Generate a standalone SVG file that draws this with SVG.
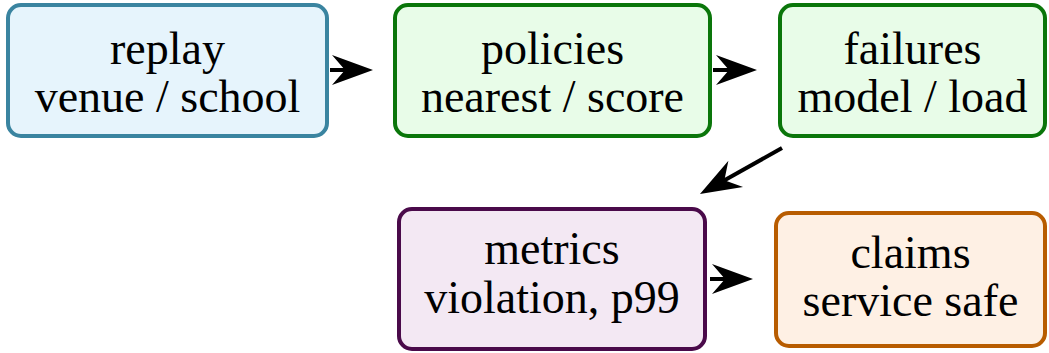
<svg xmlns="http://www.w3.org/2000/svg" width="1049" height="353" viewBox="0 0 1049 353">
<style>
.box{stroke-width:4}
.t{font-size:46px;fill:#000;text-anchor:middle}
.c{stroke:#000;stroke-width:4;fill:none;marker-end:url(#ah)}
</style>
<defs>
<marker id="ah" markerUnits="userSpaceOnUse" viewBox="-42 -16 44 32" markerWidth="44" markerHeight="32" refX="-20" refY="0" orient="auto">
<path d="M0,0 L-41,-15 L-28,0 L-41,15 Z" fill="#000"/>
</marker>
</defs>
<rect width="1049" height="353" fill="#fff"/>
<g id="connectors">
<line class="c" x1="330" y1="70" x2="353" y2="70"/>
<line class="c" x1="713" y1="70" x2="737" y2="70"/>
<line class="c" x1="782" y1="148" x2="717.4" y2="184.2"/>
<line class="c" x1="710" y1="279" x2="733" y2="279"/>
</g>
<g font-family="Liberation Serif, Times New Roman, serif">
<g id="replay">
<rect class="box" x="8" y="5" width="319" height="131" rx="13" fill="#e6f4fc" stroke="#3a84a0"/>
<text class="t" x="167.5" y="64">replay</text>
<text class="t" x="167.5" y="112">venue / school</text>
</g>
<g id="policies">
<rect class="box" x="395" y="5" width="315" height="131" rx="13" fill="#e8fce8" stroke="#0a760a"/>
<text class="t" x="552.5" y="64">policies</text>
<text class="t" x="552.5" y="112">nearest / score</text>
</g>
<g id="failures">
<rect class="box" x="780" y="5" width="265" height="131" rx="13" fill="#e8fce8" stroke="#0a760a"/>
<text class="t" x="912.5" y="64">failures</text>
<text class="t" x="912.5" y="112">model / load</text>
</g>
<g id="metrics">
<rect class="box" x="399" y="209" width="306" height="140" rx="13" fill="#f3e8f3" stroke="#4a0a4a"/>
<text class="t" x="552" y="264">metrics</text>
<text class="t" x="552" y="313">violation, p99</text>
</g>
<g id="claims">
<rect class="box" x="776" y="213" width="269" height="133" rx="13" fill="#fef0e4" stroke="#b85c00"/>
<text class="t" x="910.5" y="268">claims</text>
<text class="t" x="910.5" y="316">service safe</text>
</g>
</g>
</svg>
